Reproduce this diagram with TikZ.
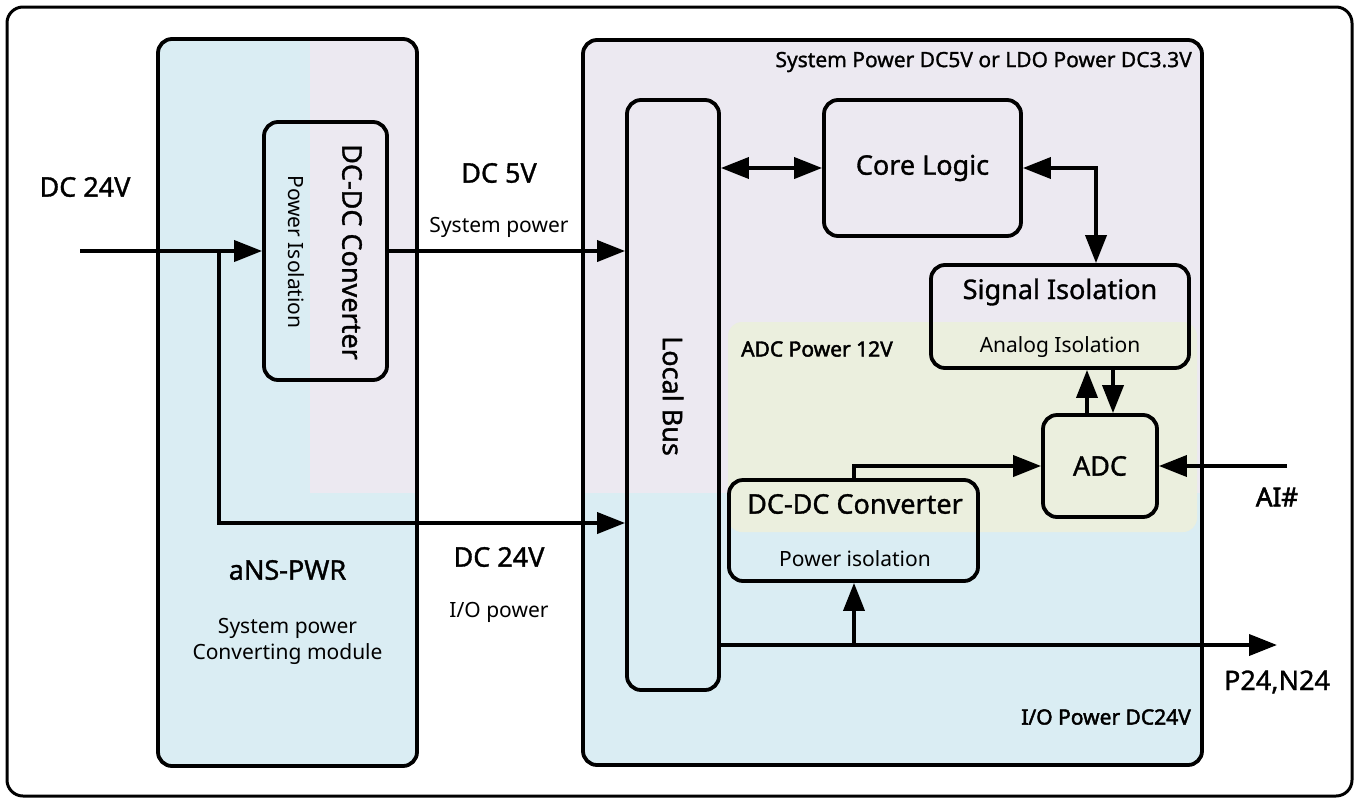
\documentclass[tikz,border=0pt]{standalone}
\usepackage{fontspec}
\setmainfont{Noto Sans}
\newfontfamily\medf{Noto Sans}[FakeBold=1.2]
\newfontfamily\bolf{Noto Sans}[FakeBold=2.2]
\usetikzlibrary{arrows.meta}
\definecolor{pblue}{RGB}{218,237,243}
\definecolor{plav}{RGB}{236,233,241}
\definecolor{pgreen}{RGB}{235,239,222}
\begin{document}
\begin{tikzpicture}[x=1pt,y=-1pt,
  box/.style={draw=black, line width=3.8pt, rounded corners=14pt, inner sep=0pt},
  arr/.style={line width=3.8pt, -{Triangle[length=28pt,width=21pt]}},
  darr/.style={line width=3.8pt, {Triangle[length=28pt,width=21pt]}-{Triangle[length=28pt,width=21pt]}},
  big/.style={font=\medf\fontsize{27}{32}\selectfont, inner sep=0pt},
  mid/.style={font=\medf\fontsize{21}{26}\selectfont, inner sep=0pt},
  small/.style={font=\fontsize{21}{26}\selectfont, inner sep=0pt},
]
\useasboundingbox (0,0) rectangle (1358,804);
\fill[white] (0,0) rectangle (1358,804);
% outer frame
\node[draw=black, line width=3pt, rounded corners=16pt, minimum width=1345pt, minimum height=789pt, inner sep=0pt] (frame) at (679.5,401.5) {};
% left module background
\begin{scope}
  \clip[rounded corners=14pt] (158,39) rectangle (417,766);
  \fill[pblue] (158,39) rectangle (417,766);
  \fill[plav] (310,39) rectangle (417,493);
\end{scope}
% right module background
\begin{scope}
  \clip[rounded corners=14pt] (583,40) rectangle (1202,765);
  \fill[pblue] (583,40) rectangle (1202,765);
  \fill[plav] (583,40) rectangle (1202,493);
  \fill[pgreen, rounded corners=14pt] (728,322) rectangle (1197,532);
\end{scope}
% boxes
\node[box, minimum width=259pt, minimum height=727pt] (leftmod) at (287.5,402.5) {};
\node[box, minimum width=619pt, minimum height=725pt] (rightmod) at (892.5,402.5) {};
\node[box, minimum width=123pt, minimum height=258pt] (conv1) at (325.5,251) {};
\node[box, minimum width=92pt, minimum height=590pt] (bus) at (673,395) {};
\node[box, minimum width=197pt, minimum height=136pt] (core) at (922.5,168) {};
\node[box, minimum width=258pt, minimum height=103pt] (sig) at (1060,316.5) {};
\node[box, minimum width=114pt, minimum height=102pt] (adc) at (1100,466) {};
\node[box, minimum width=249pt, minimum height=101pt] (conv2) at (853.5,530.5) {};
% texts in boxes
\node[big, rotate=-90] (conv1t) at (352,252) {DC-DC Converter};
\node[small, rotate=-90] (conv1s) at (296,252) {Power Isolation};
\node[big, rotate=-90] (bust) at (673,396) {Local Bus};
\node[big] (coret) at (922.5,168) {Core Logic};
\node[big] (sigt) at (1060,292) {Signal Isolation};
\node[small] (sigs) at (1060,347) {Analog Isolation};
\node[big] (adct) at (1100,466) {ADC};
\node[big] (conv2t) at (855,504) {DC-DC Converter};
\node[small] (conv2s) at (855,559) {Power isolation};
\node[big] (anst) at (287.5,570) {aNS-PWR};
\node[small, align=center, font=\fontsize{21}{26}\selectfont] (anss) at (287.5,641) {System power\\Converting module};
% labels
\node[big] (l24a) at (85,187) {DC 24V};
\node[big] (l5) at (499,173) {DC 5V};
\node[small] (l5s) at (499,227) {System power};
\node[big] (l24b) at (499,557) {DC 24V};
\node[small] (l24bs) at (499,612) {I/O power};
\node[mid, anchor=east] (sysp) at (1192,62) {System Power DC5V or LDO Power DC3.3V};
\node[mid, anchor=west, font=\bolf\fontsize{21}{26}\selectfont] (adcp) at (741,349) {ADC Power 12V};
\node[mid, anchor=east, font=\bolf\fontsize{21}{26}\selectfont] (iop) at (1191,717) {I/O Power DC24V};
\node[big, font=\bolf\fontsize{26}{32}\selectfont] (ait) at (1277,497) {AI\#};
\node[big] (pnt) at (1277,682) {P24,N24};
% connectors
\coordinate (in24) at (80,251);
\coordinate (br) at (219,251);
\coordinate (lv) at (219,523);
\draw[arr] (in24) -- (conv1.west);
\draw[arr] (br) -- (lv) -- (lv -| bus.west);
\draw[arr] (conv1.east) -- (conv1.east -| bus.west);
\draw[darr] (core.west -| bus.east) -- (core.west);
\coordinate (c1) at (1096,168);
\draw[darr] (core.east) -- (c1) -- (c1 |- sig.north);
\coordinate (up) at (1087,416);
\coordinate (dn) at (1113,368);
\draw[arr] (up |- adc.north) -- (up |- sig.south);
\draw[arr] (dn |- sig.south) -- (dn |- adc.north);
\coordinate (cv) at (854,481);
\draw[arr] (cv |- conv2.north) |- (adc.west);
\coordinate (ai) at (1287,466);
\draw[arr] (ai) -- (adc.east);
\coordinate (p24) at (1277,645);
\coordinate (pb) at (854,645);
\draw[arr] (p24 -| bus.east) -- (p24);
\draw[arr] (pb) -- (pb |- conv2.south);
\end{tikzpicture}
\end{document}
